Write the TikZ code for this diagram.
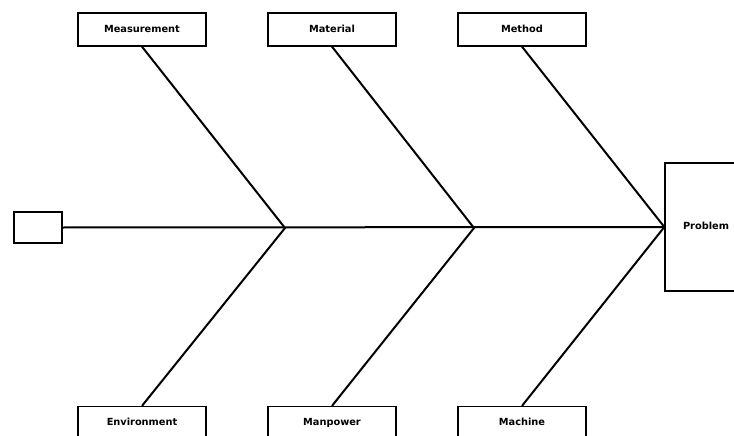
\documentclass[tikz,border=0pt]{standalone}
\usepackage{fontspec}
\setmainfont{DejaVu Sans}
\begin{document}
\begin{tikzpicture}[x=1pt, y=-1pt,
    causebox/.style={draw, line width=1.3pt, minimum width=128pt, minimum height=33pt, inner sep=0pt, text height=7.2pt, text depth=2pt, font=\bfseries\fontsize{9.8}{10}\selectfont},
    bone/.style={line width=2pt}]
        \useasboundingbox (0,0) rectangle (734,436);
        \clip (0,0) rectangle (734,436);

        % causes on top and bottom
        \node[causebox] (meas) at (142, 29.5) {Measurement};
        \node[causebox] (mat) at (332, 29.5) {Material};
        \node[causebox] (meth) at (522, 29.5) {Method};
        \node[causebox] (env) at (142, 423) {Environment};
        \node[causebox] (manp) at (332, 423) {Manpower};
        \node[causebox] (mach) at (522, 423) {Machine};

        % tail and head
        \node[draw, line width=1.3pt, minimum width=48pt, minimum height=31pt] (tail) at (38, 227.5) {};
        \node[causebox, minimum width=82pt, minimum height=128pt] (prob) at (706, 227) {Problem};

        \coordinate (j1) at (285, 228);
        \coordinate (j2) at (474, 228);

        \draw[bone] (tail.east) -- (prob.west);
        \draw[bone] (meas.south) -- (j1) -- (env.north);
        \draw[bone] (mat.south) -- (j2) -- (manp.north);
        \draw[bone] (meth.south) -- (prob.west) -- (mach.north);
    \end{tikzpicture}
\end{document}
